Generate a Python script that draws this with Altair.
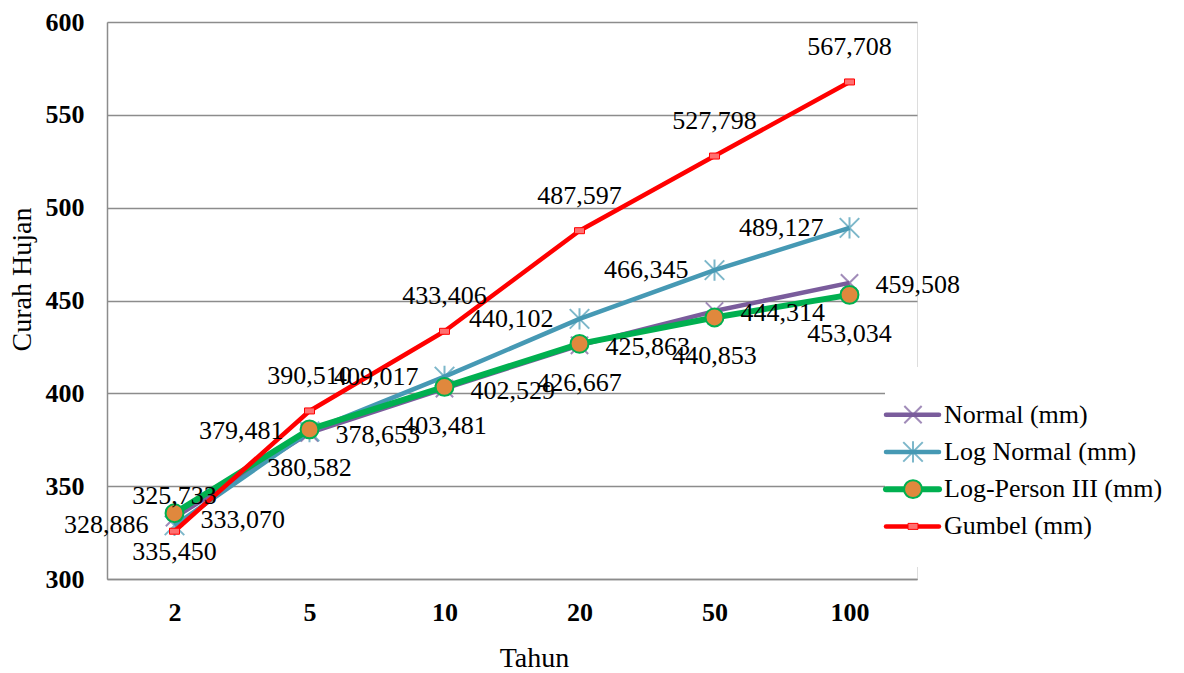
import altair as alt
import pandas as pd

# Return periods (years) and design rainfall per distribution (mm)
tahun = ["2", "5", "10", "20", "50", "100"]
normal = [333.070, 378.653, 402.529, 425.863, 444.314, 459.508]
log_normal = [328.886, 379.481, 409.017, 440.102, 466.345, 489.127]
log_pearson = [335.450, 380.582, 403.481, 426.667, 440.853, 453.034]
gumbel = [325.733, 390.510, 433.406, 487.597, 527.798, 567.708]

seri = ["Normal (mm)", "Log Normal (mm)", "Log-Person III (mm)", "Gumbel (mm)"]
nilai = [normal, log_normal, log_pearson, gumbel]

rows = []
for name, vals in zip(seri, nilai):
    for t, v in zip(tahun, vals):
        rows.append({"tahun": t, "seri": name, "nilai": v})
df = pd.DataFrame(rows)
legend_df = pd.DataFrame({"seri": seri})

FONT = "Liberation Serif"
FS = 26
X_PATH = "M-1,-1L1,1M-1,1L1,-1"
STAR_PATH = "M-1,-1L1,1M-1,1L1,-1M0,-1.1L0,1.1"
DASH_PATH = "M-1,-0.6L1,-0.6L1,0.6L-1,0.6Z"

style = {
    "Normal (mm)": dict(color="#7a5c9c", width=4.5,
                        point=dict(shape=X_PATH, size=300, filled=False, stroke="#7a5c9c", strokeWidth=2),
                        text=dict(align="left", dx=26, dy=2)),
    "Log Normal (mm)": dict(color="#4699b4", width=4.5,
                            point=dict(shape=STAR_PATH, size=380, filled=False, stroke="#4699b4", strokeWidth=2),
                            text=dict(align="right", dx=-26, dy=0)),
    "Log-Person III (mm)": dict(color="#00b050", width=6,
                                point=dict(shape="circle", size=320, filled=True, fill="#e0883d",
                                           stroke="#00b050", strokeWidth=2, opacity=1),
                                text=dict(align="center", dx=0, dy=39)),
    "Gumbel (mm)": dict(color="#ff0000", width=4.5,
                        point=dict(shape=DASH_PATH, size=100, filled=True, fill="#ff7070",
                                   stroke="#ff0000", strokeWidth=1, opacity=1),
                        text=dict(align="center", dx=0, dy=-35)),
}

x_enc = alt.X(
    "tahun:O",
    sort=tahun,
    scale=alt.Scale(type="point", domain=tahun, padding=0.5),
    axis=alt.Axis(title="Tahun", labelAngle=0, ticks=False, labelPadding=20,
                  labelFontWeight="bold", labelFontSize=FS, labelFont=FONT,
                  titleFont=FONT, titleFontSize=28, titleFontWeight="normal",
                  titlePadding=19, titleX=427, domainColor="#8c8c8c", domainWidth=1.5,
                  labelColor="black", titleColor="black"),
)
y_enc = alt.Y(
    "nilai:Q",
    scale=alt.Scale(domain=[300, 600], nice=False, zero=False),
    axis=alt.Axis(title="Curah Hujan", values=[300, 350, 400, 450, 500, 550, 600],
                  ticks=False, labelPadding=23, labelFontWeight="bold", labelFontSize=FS,
                  labelFont=FONT, titleFont=FONT, titleFontSize=28, titleFontWeight="normal",
                  titlePadding=9, titleY=257, domainColor="#8c8c8c", domainWidth=1.5,
                  gridColor="#8c8c8c", gridWidth=1.5, labelColor="black", titleColor="black"),
)

base = alt.Chart(df).encode(x=x_enc, y=y_enc)

series_layers = []
label_layers = []
for name in seri:
    st = style[name]
    sub = base.transform_filter(alt.datum.seri == name)
    series_layers.append(sub.mark_line(color=st["color"], strokeWidth=st["width"], strokeJoin="round"))
    series_layers.append(sub.mark_point(**st["point"]))
    label_layers.append(
        sub.transform_calculate(label="replace(format(datum.nilai, '.3f'), '.', ',')")
        .mark_text(font=FONT, fontSize=FS, color="black", baseline="middle", **st["text"])
        .encode(text="label:N")
    )

main = alt.layer(*series_layers, *label_layers)

# Legend drawn as its own layer, entries stacked on a point scale
leg_y = alt.Y("seri:N", sort=seri, scale=alt.Scale(domain=seri, range=[374, 523], padding=0), axis=None)
leg_base = alt.Chart(legend_df).encode(y=leg_y)

legend_bg = alt.Chart(pd.DataFrame({"k": [0]})).mark_rect(fill="white").encode(
    x=alt.value(778), x2=alt.value(812), y=alt.value(345), y2=alt.value(545)
)
legend_layers = [legend_bg]
for name in seri:
    st = style[name]
    sub = leg_base.transform_filter(alt.datum.seri == name)
    legend_layers.append(
        sub.mark_rule(color=st["color"], strokeWidth=st["width"], strokeCap="round")
        .encode(x=alt.value(779), x2=alt.value(832))
    )
    legend_layers.append(sub.mark_point(**st["point"]).encode(x=alt.value(806)))
legend_layers.append(
    leg_base.mark_text(font=FONT, fontSize=FS, color="black", align="left", baseline="middle")
    .encode(x=alt.value(837), text="seri:N")
)
legend = alt.layer(*legend_layers)

chart = (
    alt.layer(main, legend)
    .resolve_scale(y="independent")
    .properties(width=810, height=557, padding={"left": 8, "top": 9, "right": 5, "bottom": 5})
    .configure_view(stroke=None)
    .configure(background="white")
)

chart.save("out.html", embed_options={"renderer": "svg", "actions": False})
